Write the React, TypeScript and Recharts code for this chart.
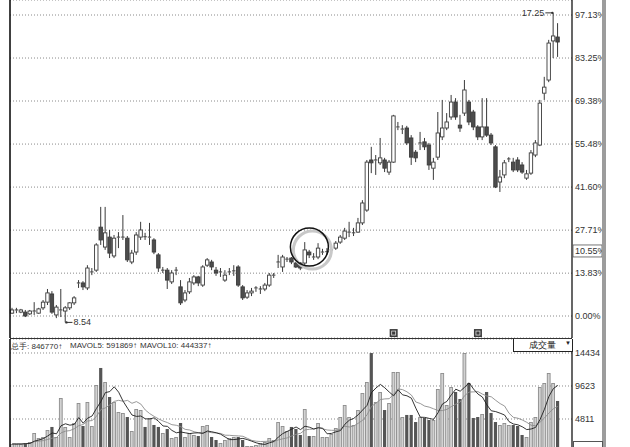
import {
  Bar,
  CartesianGrid,
  ComposedChart,
  Line,
  ReferenceDot,
  XAxis,
  YAxis,
} from "recharts";

// price base for the percentage scale on the right
const BASE = 8.72;
const PCT_TICKS = [0, 13.83, 27.71, 41.6, 55.48, 69.38, 83.25, 97.13];
const VOL_TICKS = [4811, 9623, 14434];

const opens = [
  8.8, 8.88, 8.83, 8.83, 8.78, 8.85, 8.8, 8.95, 9.11, 9.34,
  8.75, 8.88, 8.86, 8.95, 9.09, 9.64, 9.65, 9.51, 9.95, 10.01,
  11.22, 10.66, 10.94, 10.41, 10.93, 10.93, 10.91, 10.24, 10.52, 10.94,
  10.95, 10.93, 10.86, 10.44, 10.0, 10.01, 9.68, 10.0, 9.54, 9.17,
  9.4, 9.65, 9.82, 9.59, 10.15, 10.24, 10.01, 9.95, 9.73, 9.95,
  9.98, 10.1, 9.54, 9.25, 9.37, 9.5, 9.47, 9.48, 9.59, 9.86,
  10.23, 10.1, 10.31, 10.35, 10.21, 10.21, 10.21, 10.52, 10.37, 10.38,
  10.51, 10.52, 10.57, 10.63, 10.8, 10.91, 11.07, 11.05, 11.08, 11.34,
  11.7, 13.11, 13.1, 13.03, 13.11, 12.77, 13.05, 14.03, 13.97, 14.01,
  13.73, 13.33, 13.58, 13.62, 13.53, 12.88, 13.19, 13.76, 14.01, 14.32,
  14.74, 14.09, 14.43, 14.74, 14.46, 14.04, 13.76, 14.04, 13.81, 13.48,
  12.49, 12.69, 13.13, 13.05, 13.11, 12.97, 12.6, 12.74, 13.25, 13.53,
  14.99, 15.36, 16.46, 16.57,
];
const highs = [
  8.95, 8.95, 8.92, 8.89, 8.89, 9.11, 8.95, 9.17, 9.48, 9.42,
  9.03, 9.48, 9.0, 9.11, 9.28, 9.73, 9.7, 10.15, 10.07, 10.77,
  11.79, 11.79, 11.14, 11.0, 11.08, 11.56, 10.97, 10.58, 11.08, 11.37,
  11.06, 11.34, 10.91, 10.49, 10.1, 10.07, 10.01, 10.1, 9.73, 9.45,
  9.79, 9.87, 9.85, 10.15, 10.35, 10.3, 10.1, 10.07, 10.01, 10.07,
  10.15, 10.15, 9.59, 9.45, 9.51, 9.56, 9.56, 9.65, 9.93, 9.93,
  10.44, 10.44, 10.38, 10.38, 10.24, 10.24, 10.8, 10.58, 10.49, 10.77,
  10.61, 10.63, 10.66, 10.83, 11.0, 11.2, 11.37, 11.2, 11.48, 11.98,
  13.11, 13.48, 13.25, 13.73, 13.17, 13.11, 14.38, 14.18, 14.09, 14.07,
  13.81, 13.39, 13.9, 13.73, 13.59, 13.17, 14.46, 14.8, 14.43, 14.94,
  14.85, 14.38, 15.36, 14.8, 14.52, 14.09, 14.85, 14.85, 13.87, 13.53,
  12.83, 13.11, 13.19, 13.17, 13.19, 13.05, 12.83, 13.39, 13.67, 14.8,
  15.45, 16.49, 17.25, 16.96,
];
const lows = [
  8.78, 8.8, 8.8, 8.69, 8.75, 8.75, 8.78, 8.89, 9.03, 8.78,
  8.66, 8.69, 8.54, 8.89, 9.03, 9.51, 9.45, 9.45, 9.87, 9.96,
  10.72, 10.58, 10.35, 10.35, 10.63, 10.86, 10.24, 10.18, 10.44, 10.86,
  10.86, 10.72, 10.46, 9.96, 9.93, 9.48, 9.62, 9.87, 9.03, 9.11,
  9.34, 9.59, 9.56, 9.54, 10.1, 10.01, 9.85, 9.82, 9.68, 9.87,
  9.85, 9.54, 9.17, 9.2, 9.28, 9.4, 9.34, 9.42, 9.54, 9.79,
  10.07, 9.96, 10.24, 10.18, 10.07, 10.01, 10.15, 10.35, 10.3, 10.32,
  10.44, 10.44, 10.49, 10.58, 10.75, 10.86, 10.94, 10.97, 11.06, 11.28,
  11.65, 12.74, 12.69, 12.97, 12.77, 12.69, 13.03, 13.95, 13.84, 13.53,
  12.97, 13.05, 13.39, 13.39, 12.83, 12.55, 13.11, 13.67, 13.95, 14.24,
  14.24, 13.9, 14.35, 14.09, 13.95, 13.67, 13.67, 13.76, 13.53, 12.32,
  12.21, 12.6, 13.05, 12.77, 12.77, 12.72, 12.55, 12.69, 13.19, 13.5,
  14.8, 15.3, 15.98, 16.01,
];
const closes = [
  8.89, 8.89, 8.89, 8.72, 8.86, 8.86, 8.92, 9.11, 9.37, 8.83,
  8.97, 8.89, 8.95, 9.09, 9.23, 9.65, 9.54, 10.07, 9.96, 10.72,
  10.86, 11.06, 10.49, 10.91, 10.94, 10.94, 10.3, 10.49, 11.0, 11.14,
  10.94, 10.94, 10.52, 10.07, 10.01, 9.73, 9.93, 10.01, 9.09, 9.37,
  9.68, 9.82, 9.65, 10.1, 10.3, 10.1, 9.93, 9.96, 9.87, 9.96,
  9.99, 9.59, 9.23, 9.37, 9.42, 9.51, 9.48, 9.59, 9.87, 9.87,
  10.24, 10.38, 10.32, 10.24, 10.1, 10.07, 10.58, 10.44, 10.38, 10.63,
  10.52, 10.53, 10.58, 10.77, 10.94, 11.11, 11.08, 11.06, 11.34, 11.9,
  13.05, 13.03, 13.11, 13.17, 12.88, 13.05, 14.35, 14.04, 13.98, 13.59,
  13.19, 13.17, 13.59, 13.48, 12.97, 13.05, 13.87, 14.01, 14.18, 14.74,
  14.32, 14.01, 15.08, 14.18, 14.04, 13.76, 14.04, 13.81, 13.59, 12.35,
  12.63, 13.03, 13.14, 12.83, 12.83, 12.77, 12.72, 13.31, 13.59, 14.71,
  15.16, 16.4, 16.6, 16.43,
];
const volumes = [
  1170, 1170, 1170, 1310, 1460, 2770, 2040, 2190, 3210, 3650,
  2190, 7870, 3650, 2190, 4230, 7140, 3790, 7290, 3790, 9770,
  12250, 10210, 8020, 7290, 5830, 5690, 5100, 3060, 6270, 6120,
  3650, 4960, 3940, 3650, 2770, 3350, 2040, 2190, 4230, 2190,
  2770, 2480, 2330, 3790, 3940, 2190, 1750, 1310, 1750, 2040,
  2190, 2190, 1750, 880, 880, 1020, 1310, 1460, 2040, 1750,
  4370, 3790, 3060, 3650, 3350, 2480, 6270, 2330, 2330, 4230,
  2190, 2190, 2620, 3500, 5100, 6850, 5100, 3940, 6120, 8600,
  10210, 14430, 7290, 8750, 6120, 7140, 11660, 11660, 5100, 5400,
  5400, 4370, 5100, 4960, 4670, 4670, 9190, 11520, 6850, 9480,
  8750, 7730, 14430, 10060, 4960, 5100, 5540, 8750, 5690, 4370,
  3940, 4230, 3940, 3940, 3790, 2480, 2190, 4370, 5100, 9480,
  10060, 11520, 10060, 7440,
];

function movingAvg(values: number[], n: number) {
  return values.map((_, k) => {
    const from = Math.max(0, k - n + 1);
    const part = values.slice(from, k + 1);
    return part.reduce((s, v) => s + v, 0) / part.length;
  });
}

const ma5 = movingAvg(volumes, 5);
const ma10 = movingAvg(volumes, 10);

const data = opens.map((o, k) => ({
  i: k + 1,
  open: o,
  high: highs[k],
  low: lows[k],
  close: closes[k],
  range: [lows[k], highs[k]],
  up: closes[k] >= o,
  vol: volumes[k],
  ma5: ma5[k],
  ma10: ma10[k],
}));

const priceTicks = PCT_TICKS.map((p) => BASE * (1 + p / 100));
const fmtPct = (v: number) => `${((v / BASE - 1) * 100).toFixed(2)}%`;

const W = 630;
const PRICE_H = 338;
const FONT = "'Liberation Sans', Arial, sans-serif";

function Candle(props: any) {
  const { x, y, width, height, payload } = props;
  const top = Math.min(y, y + height);
  const bot = Math.max(y, y + height);
  const { open, close, high, low } = payload;
  const span = high - low || 1;
  const py = (v: number) => top + ((high - v) / span) * (bot - top);
  const cx = x + width / 2;
  const bw = 3.4;
  const yo = py(open);
  const yc = py(close);
  const bTop = Math.min(yo, yc);
  const bBot = Math.max(yo, yc);
  const up = close >= open;
  const h = bBot - bTop;
  return (
    <g>
      <line x1={cx} x2={cx} y1={top} y2={bTop} stroke="#3a3a3a" strokeWidth={1} />
      <line x1={cx} x2={cx} y1={bBot} y2={bot} stroke="#3a3a3a" strokeWidth={1} />
      {h < 1.2 ? (
        <line x1={cx - bw / 2} x2={cx + bw / 2} y1={bTop} y2={bTop} stroke="#3a3a3a" strokeWidth={1} />
      ) : (
        <rect
          x={cx - bw / 2}
          y={bTop}
          width={bw}
          height={h}
          fill={up ? "#ffffff" : "#4d4d4d"}
          stroke="#3a3a3a"
          strokeWidth={0.9}
        />
      )}
    </g>
  );
}

function VolBar(props: any) {
  const { x, y, width, height, payload } = props;
  const cx = x + width / 2;
  if (payload.up) {
    return (
      <rect x={cx - 1.4} y={y + 0.5} width={2.8} height={height} fill="#d2d2d2" stroke="#8c8c8c" strokeWidth={0.9} />
    );
  }
  return <rect x={cx - 1.6} y={y} width={3.2} height={height} fill="#555555" />;
}

const labelStyle = { fontSize: 9, fill: "#333", fontFamily: FONT };
const headStyle = {
  position: "absolute" as const,
  top: 341,
  fontSize: 8,
  color: "#333",
  whiteSpace: "nowrap" as const,
};

export default function App() {
  return (
    <div
      style={{
        position: "absolute",
        left: 0,
        top: 0,
        width: W,
        height: 447,
        overflow: "hidden",
        background: "#fff",
        fontFamily: FONT,
      }}
    >
      <div style={{ position: "absolute", left: 0, top: 0 }}>
        <ComposedChart
          width={W}
          height={PRICE_H}
          data={data}
          margin={{ top: 0, right: 0, left: 0, bottom: 0 }}
          barCategoryGap={0}
        >
          <XAxis dataKey="i" type="category" hide padding={{ left: 0, right: 12 }} />
          <YAxis
            yAxisId="l"
            orientation="left"
            width={10}
            domain={[8.101, 17.612]}
            allowDataOverflow
            tick={false}
            tickLine={false}
            axisLine={{ stroke: "#000", strokeWidth: 1.5 }}
          />
          <YAxis
            yAxisId="r"
            orientation="right"
            width={58}
            domain={[8.101, 17.612]}
            allowDataOverflow
            ticks={priceTicks}
            tickFormatter={fmtPct}
            tickLine={false}
            tickSize={1}
            tickMargin={2}
            interval={0}
            tick={labelStyle}
            axisLine={{ stroke: "#000", strokeWidth: 1.2 }}
          />
          <CartesianGrid yAxisId="r" vertical={false} stroke="#8a8a8a" strokeDasharray="1 2" />
          <Bar yAxisId="r" dataKey="range" shape={Candle} isAnimationActive={false} />
          {/* circled area */}
          <ReferenceDot
            yAxisId="r"
            x={68}
            y={10.66}
            r={19}
            shape={(p: any) => (
              <g>
                <circle cx={p.cx + 3} cy={p.cy + 3} r={19} fill="none" stroke="#c8c8c8" strokeWidth={3} />
                <circle cx={p.cx} cy={p.cy} r={19} fill="none" stroke="#111" strokeWidth={1.5} />
              </g>
            )}
          />
          {/* high marker */}
          <ReferenceDot
            yAxisId="r"
            x={123}
            y={17.25}
            r={1}
            shape={(p: any) => (
              <g>
                <text x={p.cx - 9} y={p.cy + 3} textAnchor="end" {...labelStyle}>
                  17.25
                </text>
                <line x1={p.cx - 8} x2={p.cx - 1} y1={p.cy} y2={p.cy} stroke="#333" strokeWidth={1} />
                <circle cx={p.cx - 1} cy={p.cy} r={1.2} fill="#333" />
              </g>
            )}
          />
          {/* low marker */}
          <ReferenceDot
            yAxisId="r"
            x={13}
            y={8.54}
            r={1}
            shape={(p: any) => (
              <g>
                <circle cx={p.cx + 1} cy={p.cy} r={1.2} fill="#333" />
                <line x1={p.cx + 1} x2={p.cx + 7} y1={p.cy} y2={p.cy} stroke="#333" strokeWidth={1} />
                <text x={p.cx + 8} y={p.cy + 3} textAnchor="start" {...labelStyle}>
                  8.54
                </text>
              </g>
            )}
          />
          {/* boxed axis label */}
          <ReferenceDot
            yAxisId="r"
            x={124}
            y={10.55}
            r={1}
            shape={(p: any) => (
              <g>
                <rect x={573} y={p.cy - 6} width={29} height={12} fill="#fff" stroke="#555" strokeWidth={0.8} />
                <text x={575} y={p.cy + 3} {...labelStyle}>
                  10.55%
                </text>
              </g>
            )}
          />
          {[87, 106].map((k) => (
            <ReferenceDot
              key={k}
              yAxisId="r"
              x={k}
              y={8.24}
              r={1}
              shape={(p: any) => (
                <g>
                  <rect x={p.cx - 4} y={p.cy - 4} width={8} height={8} fill="#3d3d3d" />
                  <rect x={p.cx - 2} y={p.cy - 2} width={4} height={4} fill="none" stroke="#ddd" strokeWidth={0.8} />
                </g>
              )}
            />
          ))}
        </ComposedChart>
      </div>

      <div style={{ position: "absolute", left: 0, top: PRICE_H }}>
        <ComposedChart
          width={W}
          height={114}
          data={data}
          margin={{ top: 1, right: 0, left: 0, bottom: 0 }}
          barCategoryGap={0}
        >
          <XAxis dataKey="i" type="category" hide padding={{ left: 0, right: 12 }} />
          <YAxis
            yAxisId="l"
            orientation="left"
            width={10}
            domain={[0, 16475]}
            allowDataOverflow
            tick={false}
            tickLine={false}
            axisLine={{ stroke: "#000", strokeWidth: 1.5 }}
          />
          <YAxis
            yAxisId="r"
            orientation="right"
            width={58}
            domain={[0, 16475]}
            allowDataOverflow
            ticks={VOL_TICKS}
            interval={0}
            tickLine={false}
            tickSize={1}
            tickMargin={2}
            tick={labelStyle}
            axisLine={{ stroke: "#000", strokeWidth: 1.2 }}
          />
          <CartesianGrid yAxisId="r" vertical={false} stroke="#8a8a8a" strokeDasharray="1 2" />
          <Bar yAxisId="r" dataKey="vol" shape={VolBar} isAnimationActive={false} />
          <Line
            yAxisId="r"
            dataKey="ma10"
            stroke="#8c8c8c"
            strokeWidth={0.9}
            dot={false}
            isAnimationActive={false}
          />
          <Line
            yAxisId="r"
            dataKey="ma5"
            stroke="#1e1e1e"
            strokeWidth={0.9}
            dot={false}
            isAnimationActive={false}
          />
        </ComposedChart>
      </div>

      {/* panel separator */}
      <div style={{ position: "absolute", left: 10, top: PRICE_H, width: 562, height: 1, background: "#333" }} />
      {/* right gray strip */}
      <div style={{ position: "absolute", left: 602, top: 0, width: 4, height: 447, background: "#9c9c9c" }} />
      {/* indicator header */}
      <div style={{ ...headStyle, left: 11 }}>总手: 846770↑</div>
      <div style={{ ...headStyle, left: 70 }}>MAVOL5: 591869↑</div>
      <div style={{ ...headStyle, left: 140 }}>MAVOL10: 444337↑</div>
      {/* indicator selector box */}
      <div
        style={{
          position: "absolute",
          left: 513,
          top: 339,
          width: 58,
          height: 12,
          border: "1px solid #222",
          borderTop: "none",
          background: "#fff",
          fontSize: 9,
          color: "#222",
        }}
      >
        <span style={{ position: "absolute", left: 15, top: 0 }}>成交量</span>
        <span style={{ position: "absolute", left: 51, top: 1, fontSize: 6 }}>▼</span>
      </div>
      <div
        style={{
          position: "absolute",
          left: 573,
          top: 441,
          width: 28,
          height: 12,
          border: "1px solid #555",
          background: "#fff",
        }}
      />
    </div>
  );
}
